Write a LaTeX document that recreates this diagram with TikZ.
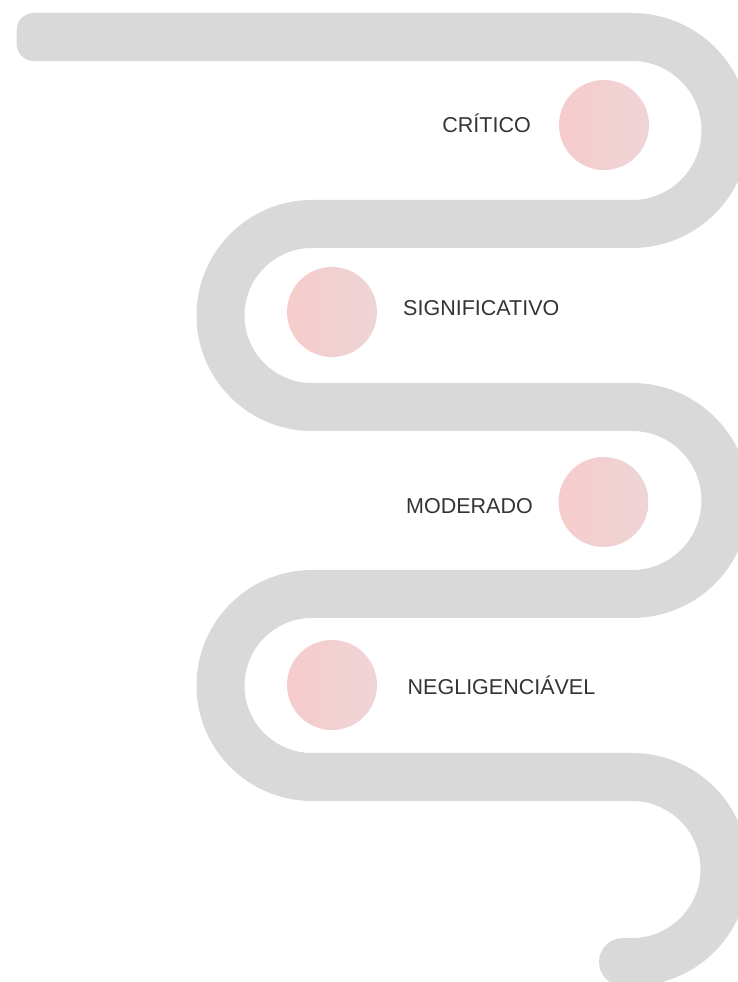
\documentclass[tikz,border=0pt]{standalone}
\usepackage{fontspec}
\setmainfont{Liberation Sans}
\definecolor{bandgrey}{RGB}{217,217,217}
\definecolor{pinkL}{RGB}{246,204,204}
\definecolor{pinkR}{RGB}{238,212,214}
\definecolor{txtgrey}{RGB}{52,52,52}
\begin{document}
\begin{tikzpicture}[x=1pt,y=1pt,
  band/.style={draw=bandgrey,line width=48pt,line cap=butt,line join=round},
  dot/.style={circle,minimum size=90pt,inner sep=0pt,left color=pinkL,right color=pinkR,shading angle=90},
  lbl/.style={inner sep=0pt,text=txtgrey,font=\fontsize{21.5}{26}\selectfont}]
\useasboundingbox (0,0) rectangle (738,982);
\begin{scope}
\clip (0,0) rectangle (738,982);
\fill[bandgrey,rounded corners=17pt] (16.7,921) rectangle (70,969);
\draw[band] (40,945) -- (632,945) arc[start angle=90,end angle=-90,radius=93.5pt]
  -- (312,758) arc[start angle=90,end angle=270,radius=91.5pt]
  -- (632,575) arc[start angle=90,end angle=-90,radius=93.5pt]
  -- (312,388) arc[start angle=90,end angle=270,radius=91.5pt]
  -- (632,205) arc[start angle=90,end angle=-90,radius=92.5pt]
  -- (623,20);
\fill[bandgrey] (623,20) circle[radius=24pt];
\end{scope}
\node[dot] (c1) at (604,857) {};
\node[dot] (c2) at (332,670) {};
\node[dot] (c3) at (603.5,480) {};
\node[dot] (c4) at (332,297) {};
\node[lbl,anchor=base east] (t1) at (531,849.3) {CRÍTICO};
\node[lbl,anchor=base west] (t2) at (403,666) {SIGNIFICATIVO};
\node[lbl,anchor=base east] (t3) at (533,468.7) {MODERADO};
\node[lbl,anchor=base west] (t4) at (407.5,287.7) {NEGLIGENCIÁVEL};
\end{tikzpicture}
\end{document}
